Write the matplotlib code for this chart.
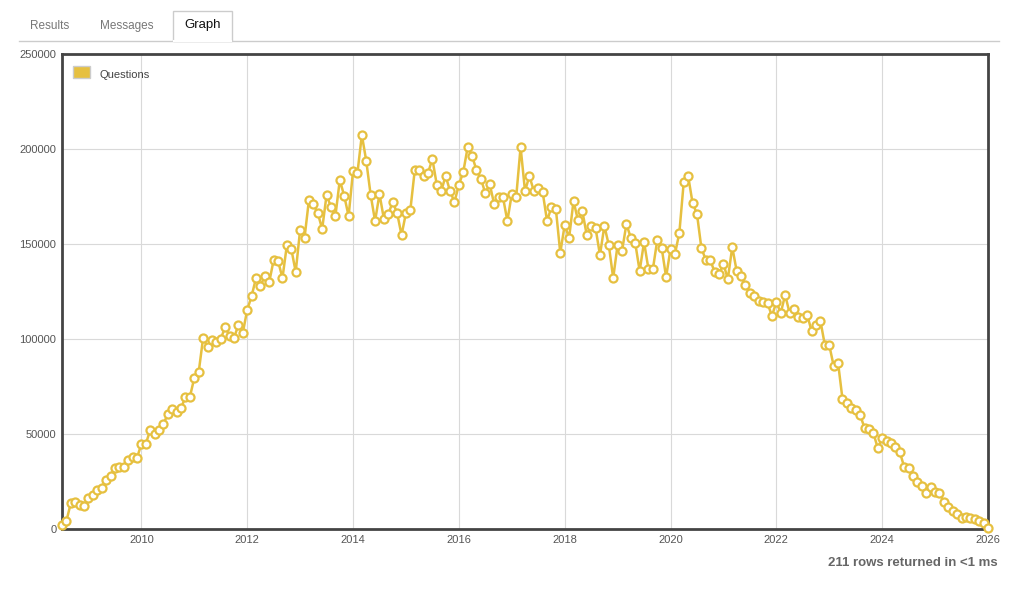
import matplotlib
matplotlib.use("Agg")
import matplotlib.pyplot as plt
from matplotlib.patches import Rectangle
from matplotlib.lines import Line2D

plt.rcParams['font.family'] = ['Liberation Sans', 'DejaVu Sans']

start_year = 2008.5  # July 2008, monthly rows
questions = [
    2000, 4200, 13700, 14200, 12600, 12100, 16300, 17900, 20500, 21600, 25800, 27900,
    32100, 32600, 32600, 36300, 37900, 37400, 44700, 44700, 52100, 50000, 52100, 55300,
    60500, 63200, 61600, 63700, 69500, 69500, 79500, 82600, 100500, 95800, 99500, 98400,
    100000, 106300, 101600, 100500, 107400, 103200, 115300, 122600, 132100, 127900, 133200, 130000,
    141600, 141000, 132100, 149500, 147400, 135300, 157400, 153200, 173200, 171000, 166300, 157900,
    175800, 169500, 164700, 183700, 175300, 164700, 188400, 187400, 207400, 193700, 175800, 162100,
    176300, 163200, 165800, 172100, 166300, 154700, 166300, 167900, 188900, 188900, 185800, 187400,
    194700, 181100, 177900, 185800, 177900, 172100, 181100, 187900, 201000, 196300, 188900, 184200,
    176800, 181600, 171000, 174700, 174700, 162100, 176300, 174700, 201000, 177900, 185800, 177900,
    179500, 177400, 162100, 169500, 168400, 145300, 160000, 153200, 172600, 162600, 167400, 154700,
    159500, 158400, 144200, 159500, 149500, 132100, 149500, 146300, 160500, 153200, 150500, 135800,
    151000, 136800, 136800, 152100, 147900, 132600, 147400, 144700, 155800, 182600, 185800, 171600,
    165800, 147900, 141600, 141600, 135300, 134200, 139500, 131600, 148400, 135800, 133200, 128400,
    124200, 122600, 120000, 119500, 118900, 112100, 119500, 113700, 123200, 113700, 115800, 111600,
    111100, 112600, 104200, 107400, 109500, 96800, 96800, 85800, 87400, 68400, 66300, 63700,
    62600, 60000, 53200, 52600, 50500, 42600, 47900, 46300, 45300, 43200, 40500, 32600,
    32100, 27900, 24700, 22600, 18900, 22100, 19500, 18900, 14200, 11600, 9500, 7900,
    5800, 6300, 5800, 5300, 4200, 3200, 500,
]
x_ticks = [2010, 2012, 2014, 2016, 2018, 2020, 2022, 2024, 2026]
y_ticks = [0, 50000, 100000, 150000, 200000, 250000]
series_label = "Questions"
tabs = ["Results", "Messages", "Graph"]
footer = "211 rows returned in <1 ms"

W, H = 1026, 589
fig = plt.figure(figsize=(W / 100, H / 100), dpi=100)
ax = fig.add_axes([62 / W, 1 - 529 / H, 926 / W, 475 / H])

xs = [start_year + i / 12 for i in range(len(questions))]
gold = "#e6c040"
ax.plot(xs, questions, color=gold, lw=1.8, marker="o", markersize=5.8,
        markerfacecolor="white", markeredgecolor=gold, markeredgewidth=1.6,
        zorder=3, clip_on=False)

ax.set_xlim(start_year, 2026.0)
ax.set_ylim(0, 250000)
ax.set_xticks(x_ticks)
ax.set_yticks(y_ticks)
ax.set_xticklabels([str(t) for t in x_ticks])
ax.set_yticklabels([str(t) for t in y_ticks])
ax.tick_params(length=0, labelsize=8, colors="#555555", pad=4)
ax.grid(True, color="#d9d9d9", lw=0.8)
ax.set_axisbelow(True)
for s in ax.spines.values():
    s.set_color("#444444")
    s.set_linewidth(2)

# legend
fig.patches.append(Rectangle((73 / W, 1 - 78 / H), 17 / W, 12 / H,
                             transform=fig.transFigure, facecolor=gold,
                             edgecolor="#cccccc", lw=1))
fig.text(100 / W, 1 - 75 / H, series_label, fontsize=8, color="#444444", va="center")

# tabs
fig.add_artist(Line2D([19 / W, 999 / W], [1 - 40.5 / H, 1 - 40.5 / H],
                      transform=fig.transFigure, color="#cccccc", lw=1))
fig.patches.append(Rectangle((173 / W, 1 - 41 / H), 59 / W, 30 / H,
                             transform=fig.transFigure, facecolor="white",
                             edgecolor="#cccccc", lw=1))
fig.add_artist(Line2D([174 / W, 231 / W], [1 - 40.5 / H, 1 - 40.5 / H],
                      transform=fig.transFigure, color="white", lw=1.5))
fig.text(50 / W, 1 - 26 / H, tabs[0], fontsize=8.5, color="#777777", ha="center", va="center")
fig.text(127 / W, 1 - 26 / H, tabs[1], fontsize=8.5, color="#777777", ha="center", va="center")
fig.text(203 / W, 1 - 25 / H, tabs[2], fontsize=9.5, color="#111111", ha="center", va="center")

fig.text(998 / W, 1 - 563 / H, footer, fontsize=9.5, color="#666666",
         ha="right", va="center", fontweight="bold")

fig.savefig("out.png", dpi=100)
